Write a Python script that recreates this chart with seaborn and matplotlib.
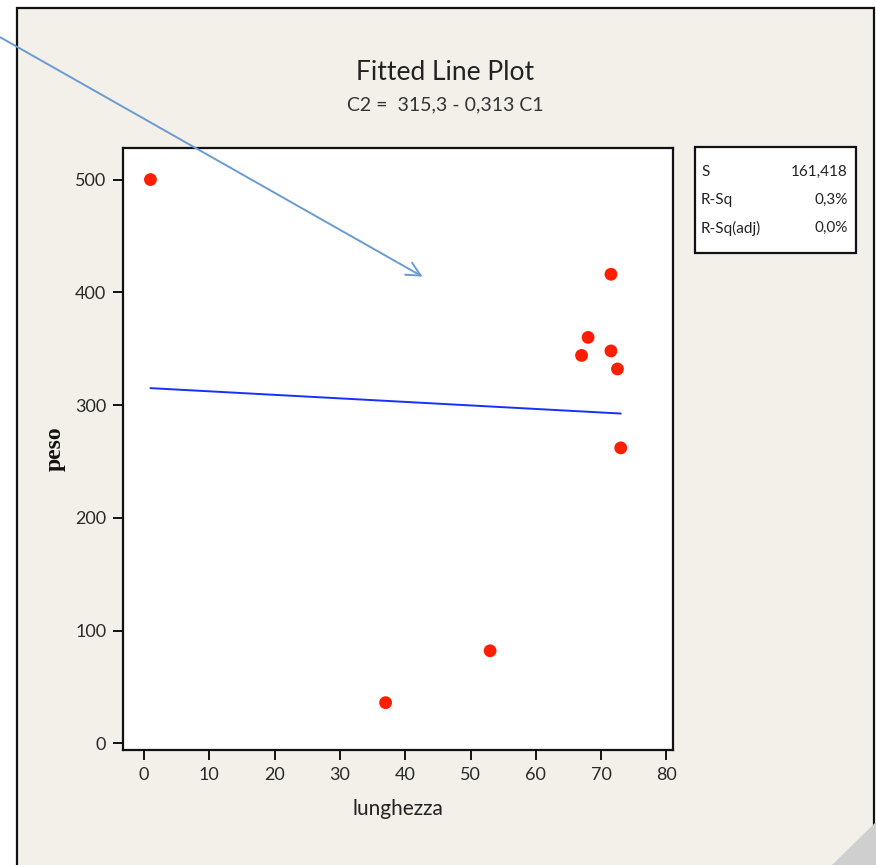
import matplotlib
matplotlib.use("Agg")
import matplotlib.pyplot as plt
from matplotlib.patches import Rectangle, Polygon, FancyArrowPatch
import numpy as np
import pandas as pd
import seaborn as sns

# Observed data
lunghezza = [1, 37, 53, 67, 68, 71.5, 71.5, 72.5, 73]
peso = [500, 36, 82, 344, 360, 416, 348, 332, 262]

# Regression summary
intercept = 315.3
slope = -0.313
stat_names = ["S", "R-Sq", "R-Sq(adj)"]
stat_values = ["161,418", "0,3%", "0,0%"]

x_ticks = [0, 10, 20, 30, 40, 50, 60, 70, 80]
y_ticks = [0, 100, 200, 300, 400, 500]

sns.set_theme(style="white")
FONT = ["Lato", "DejaVu Sans"]
plt.rcParams["font.family"] = FONT

W, H = 876, 865
fig = plt.figure(figsize=(W / 100, H / 100), dpi=100)
fig.patch.set_facecolor("white")

def fx(px):
    return px / W

def fy(py):
    return 1 - py / H

# Slide panel background with frame
fig.patches.append(Rectangle((fx(17), fy(880)), fx(874) - fx(17), fy(8) - fy(880),
                             transform=fig.transFigure, facecolor="#F3EFE9",
                             edgecolor="#111111", linewidth=1.6, zorder=-10))
fig.patches.append(Polygon([(fx(876), fy(822)), (fx(876), fy(865)), (fx(832), fy(865))],
                           closed=True, transform=fig.transFigure,
                           facecolor="#CFCFCF", edgecolor="none", zorder=-5))

ax = fig.add_axes([fx(123), fy(750), fx(673) - fx(123), fy(148) - fy(750)])
ax.set_zorder(1)
ax.set_facecolor("white")

df = pd.DataFrame({"lunghezza": lunghezza, "peso": peso})
sns.scatterplot(data=df, x="lunghezza", y="peso", ax=ax, color="#FF1E00",
                s=85, edgecolor="none", zorder=3)

xs = np.array([min(lunghezza), max(lunghezza)])
fit = pd.DataFrame({"lunghezza": xs, "peso": intercept + slope * xs})
sns.lineplot(data=fit, x="lunghezza", y="peso", ax=ax, color="#1530FF",
             linewidth=1.4, zorder=2)

ax.set_xlim(-3.2, 81.0)
ax.set_ylim(-6, 528)
ax.set_xticks(x_ticks)
ax.set_yticks(y_ticks)
ax.tick_params(axis="both", which="major", direction="out", length=7, width=1.4,
               color="#111111", labelsize=13, labelcolor="#2a2a2a", pad=5,
               bottom=True, left=True)
for sp in ax.spines.values():
    sp.set_color("#111111")
    sp.set_linewidth(1.6)

ax.set_xlabel("lunghezza", fontsize=15, color="#222222", labelpad=12)
ax.set_ylabel("peso", fontsize=17, fontweight="bold", color="#111111",
              family=["Liberation Serif", "DejaVu Serif"], labelpad=7)

fig.text(fx(445), fy(73), "Fitted Line Plot", ha="center", va="center",
         fontsize=19, color="#222222")
fig.text(fx(445), fy(105), "C2 =  315,3 - 0,313 C1", ha="center", va="center",
         fontsize=14, color="#333333")

# Summary statistics box
fig.patches.append(Rectangle((fx(695), fy(253)), fx(856) - fx(695), fy(147) - fy(253),
                             transform=fig.transFigure, facecolor="white",
                             edgecolor="#111111", linewidth=1.6, zorder=2))
for i, (name, val) in enumerate(zip(stat_names, stat_values)):
    yy = fy(172 + i * 28)
    fig.text(fx(701), yy, name, ha="left", va="center", fontsize=11, color="#222222",
             zorder=3)
    fig.text(fx(848), yy, val, ha="right", va="center", fontsize=11, color="#222222",
             zorder=3)

# Pointer arrow
fig.add_artist(FancyArrowPatch(
    (fx(-2), fy(36)), (fx(425), fy(278)), transform=fig.transFigure,
    arrowstyle="->,head_length=10,head_width=5", color="#6A9BD2",
    linewidth=1.4, zorder=5))

fig.savefig("out.png", dpi=100, facecolor=fig.get_facecolor())
